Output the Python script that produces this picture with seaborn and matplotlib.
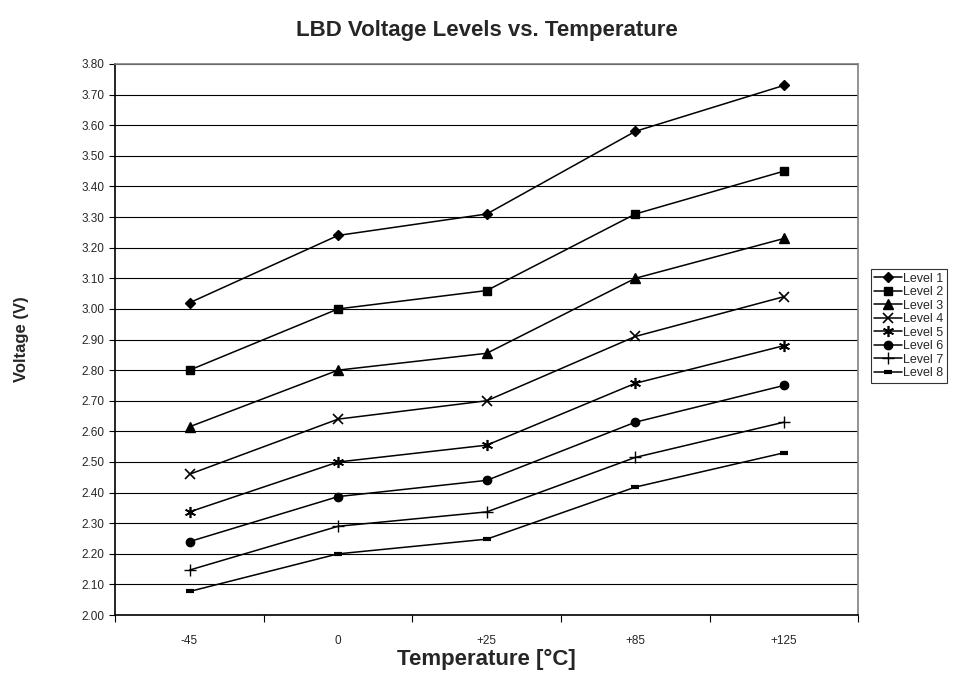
import pandas as pd
import matplotlib.pyplot as plt
import seaborn as sns
from matplotlib.ticker import FixedLocator, MultipleLocator

temps = ['-45', '0', '+25', '+85', '+125']
levels = ['Level 1', 'Level 2', 'Level 3', 'Level 4',
          'Level 5', 'Level 6', 'Level 7', 'Level 8']

level1 = [3.02, 3.24, 3.31, 3.58, 3.73]
level2 = [2.80, 3.00, 3.06, 3.31, 3.45]
level3 = [2.615, 2.80, 2.855, 3.10, 3.23]
level4 = [2.46, 2.64, 2.70, 2.91, 3.04]
level5 = [2.337, 2.50, 2.555, 2.757, 2.88]
level6 = [2.24, 2.387, 2.44, 2.63, 2.75]
level7 = [2.147, 2.29, 2.337, 2.515, 2.63]
level8 = [2.077, 2.20, 2.248, 2.418, 2.53]
values = [level1, level2, level3, level4, level5, level6, level7, level8]

markers = ['D', 's', '^', 'x', (6, 2, 0), 'o', '+', '_']
sizes = [5.5, 5.5, 6.5, 7, 8, 6, 8, 6]
widths = [1, 1, 1, 1.2, 1.2, 1, 1, 3]

df = pd.DataFrame({
    'pos': list(range(len(temps))) * len(levels),
    'voltage': sum(values, []),
    'level': [lv for lv in levels for _ in temps],
})

sns.set_style('white')
plt.rcParams['font.family'] = ['Liberation Sans', 'DejaVu Sans']

fig, ax = plt.subplots(figsize=(9.6, 6.88), dpi=100)
fig.subplots_adjust(left=0.12, right=0.894, top=0.907, bottom=0.106)

for lv, m, ms, mw in zip(levels, markers, sizes, widths):
    sub = df[df['level'] == lv]
    sns.lineplot(x='pos', y='voltage', data=sub, ax=ax, color='black',
                 marker=m, markersize=ms, markeredgecolor='black',
                 markerfacecolor='black', markeredgewidth=mw,
                 linewidth=1.1, label=lv)

ax.set_xlim(-0.5, len(temps) - 0.5)
ax.set_ylim(2.0, 3.8)
ax.yaxis.set_major_locator(MultipleLocator(0.1))
ax.set_yticklabels([f'{v:.2f}' for v in ax.get_yticks()])
ax.grid(axis='y', color='black', linewidth=0.8)
ax.set_axisbelow(True)

# category labels centred, tick marks between categories (Excel style)
ax.xaxis.set_major_locator(FixedLocator([i - 0.5 for i in range(len(temps) + 1)]))
ax.xaxis.set_minor_locator(FixedLocator(range(len(temps))))
ax.set_xticklabels([''] * (len(temps) + 1))
ax.set_xticklabels(temps, minor=True)
ax.tick_params(axis='x', which='major', direction='out', length=5, color='black', bottom=True)
ax.tick_params(axis='x', which='minor', length=0, labelsize=8.5, pad=14)
ax.tick_params(axis='y', direction='out', length=4, color='black', left=True, labelsize=8.5)

for side in ['left', 'bottom']:
    ax.spines[side].set_color('black')
    ax.spines[side].set_linewidth(1.2)
for side in ['top', 'right']:
    ax.spines[side].set_color('#808080')
    ax.spines[side].set_linewidth(1.2)

ax.set_title('LBD Voltage Levels vs. Temperature', fontsize=16, fontweight='bold', pad=20)
ax.set_xlabel('Temperature [°C]', fontsize=16, fontweight='bold', labelpad=2)
ax.set_ylabel('Voltage (V)', fontsize=12, fontweight='bold', labelpad=38)

leg = ax.legend(loc='upper left', bbox_to_anchor=(0.907, 0.609),
                bbox_transform=fig.transFigure, fontsize=9, frameon=True,
                fancybox=False, borderpad=0.3, labelspacing=0.12,
                handlelength=2.2, handletextpad=0.1, borderaxespad=0)
leg.get_frame().set_edgecolor('black')
leg.get_frame().set_linewidth(0.8)

fig.savefig('out.png', dpi=100)
